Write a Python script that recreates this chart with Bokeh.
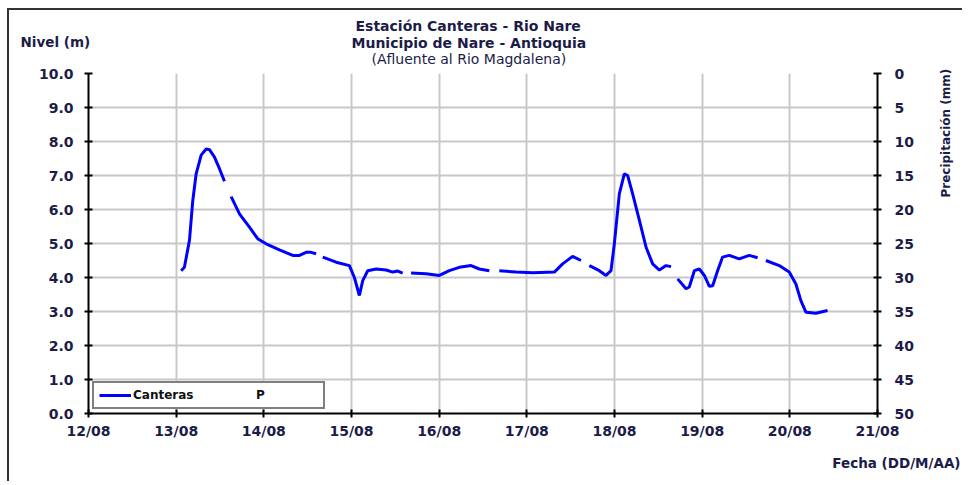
import math
import numpy as np
import pandas as pd
from bokeh.plotting import figure
from bokeh.models import (Range1d, LinearAxis, DaysTicker, DatetimeTickFormatter,
                          NumeralTickFormatter, SingleIntervalTicker, Title, Legend,
                          LegendItem, ColumnDataSource)
from bokeh.embed import file_html
from bokeh.resources import INLINE

nan = float("nan")

# Day of August (decimal) and level (m); NaN marks gaps in the record
dia = [13.057, 13.094, 13.152, 13.189, 13.228, 13.285, 13.342, 13.380, 13.437, 13.494, 13.551, nan,
       13.627, 13.722, 13.836, 13.930, 14.026, 14.178, 14.330, 14.406, 14.482, 14.539, 14.596, nan,
       14.672, 14.825, 14.976, 15.033, 15.090, 15.128, 15.185, 15.281, 15.395, 15.470, 15.527, 15.584, nan,
       15.680, 15.850, 16.002, 16.116, 16.230, 16.364, 16.458, 16.572, nan,
       16.686, 16.877, 17.066, 17.314, 17.408, 17.522, 17.618, nan,
       17.713, 17.827, 17.903, 17.960, 17.998, 18.055, 18.112, 18.150, 18.207, 18.284, 18.360, 18.435,
       18.512, 18.588, 18.645, nan,
       18.720, 18.816, 18.853, 18.911, 18.968, 19.025, 19.082, 19.120, 19.176, 19.233, 19.309, 19.423,
       19.537, 19.632, nan,
       19.727, 19.879, 19.993, 20.069, 20.126, 20.183, 20.297, 20.430]
nivel = [4.20, 4.30, 5.10, 6.25, 7.05, 7.60, 7.78, 7.76, 7.54, 7.20, 6.83, nan,
         6.38, 5.87, 5.48, 5.14, 4.99, 4.81, 4.65, 4.65, 4.74, 4.74, 4.70, nan,
         4.60, 4.45, 4.35, 4.00, 3.47, 3.91, 4.20, 4.25, 4.22, 4.16, 4.19, 4.13, nan,
         4.13, 4.11, 4.06, 4.20, 4.30, 4.35, 4.25, 4.20, nan,
         4.20, 4.16, 4.14, 4.16, 4.40, 4.62, 4.50, nan,
         4.35, 4.20, 4.06, 4.20, 4.99, 6.46, 7.05, 7.00, 6.46, 5.68, 4.89, 4.40,
         4.22, 4.35, 4.32, nan,
         3.96, 3.67, 3.72, 4.20, 4.25, 4.06, 3.74, 3.76, 4.20, 4.60, 4.65, 4.55,
         4.65, 4.58, nan,
         4.50, 4.35, 4.16, 3.81, 3.32, 2.98, 2.95, 3.03]

# Precipitation (mm): no values recorded in the period shown
dia_p = []
precip = []

base = pd.Timestamp("2010-08-01")
DAY_MS = 86400000.0
BASE_MS = base.value / 1e6


def to_ms(days):
    return np.array([BASE_MS + (d - 1) * DAY_MS for d in days], dtype=float)


src = ColumnDataSource(dict(t=to_ms(dia), v=np.array(nivel, dtype=float)))
src_p = ColumnDataSource(dict(t=to_ms(dia_p), v=np.array(precip, dtype=float)))

TXT = "#1c1c48"
FONT = "DejaVu Sans"

p = figure(x_axis_type="datetime", output_backend="svg", toolbar_location=None,
           frame_width=789, frame_height=340,
           min_border_left=79, min_border_right=84, min_border_top=63, min_border_bottom=10,
           x_range=Range1d(BASE_MS + 11 * DAY_MS, BASE_MS + 20 * DAY_MS),
           y_range=Range1d(0, 10))
p.styles = {"margin-left": "7px", "margin-top": "8px",
            "border-left": "2px solid #333333", "border-top": "2px solid #333333"}
p.outline_line_color = None
p.background_fill_color = "white"
p.border_fill_color = "white"
p.title.text = ""

p.extra_y_ranges = {"precip": Range1d(50, 0)}

line_r = p.line("t", "v", source=src, line_color="#0000ff", line_width=3)
pts_r = p.scatter("t", "v", source=src_p, y_range_name="precip", color="#008000", size=4)

# x axis
xa = p.xaxis[0]
xa.ticker = DaysTicker(days=list(range(1, 32)))
xa.formatter = DatetimeTickFormatter(days="%d/%m", months="%d/%m", hours="%d/%m")
# y axis
ya = p.yaxis[0]
ya.ticker = SingleIntervalTicker(interval=1)
ya.formatter = NumeralTickFormatter(format="0.0")

NBSP = "\u00a0"
ra = LinearAxis(y_range_name="precip", ticker=SingleIntervalTicker(interval=5),
                axis_label=NBSP * 11 + "Precipitación (mm)")
p.add_layout(ra, "right")
ra.axis_label_text_font = FONT
ra.axis_label_text_font_style = "bold"
ra.axis_label_text_font_size = "12px"
ra.axis_label_text_color = TXT
ra.axis_label_standoff = 29
ra.axis_label_orientation = math.pi / 2

for ax in (xa, ya, ra):
    ax.axis_line_color = "black"
    ax.axis_line_width = 2
    ax.major_tick_line_color = "black"
    ax.major_tick_line_width = 2
    ax.major_tick_in = 4
    ax.major_tick_out = 4
    ax.minor_tick_line_color = None
    ax.major_label_text_font = FONT
    ax.major_label_text_font_style = "bold"
    ax.major_label_text_font_size = "14px"
    ax.major_label_text_color = TXT
xa.major_label_standoff = 5
ya.major_label_standoff = 11
ra.major_label_standoff = 13

p.xgrid.grid_line_color = "#c8c8c8"
p.xgrid.grid_line_width = 2
p.ygrid.grid_line_color = "#c8c8c8"
p.ygrid.grid_line_width = 2
p.xgrid.ticker = xa.ticker
p.ygrid.ticker = ya.ticker


def title(text, size="14px", style="bold", align="left", offset=0, valign="top", standoff=0):
    return Title(text=text, text_font=FONT, text_font_size=size, text_font_style=style,
                 text_color=TXT, align=align, offset=offset, vertical_align=valign,
                 standoff=standoff)


t1 = title("Estación Canteras - Rio Nare", offset=267, standoff=9)
t2 = title("Municipio de Nare - Antioquia", offset=263, standoff=-14)
t_niv = title("Nivel (m)", size="13.5px", offset=-68, valign="bottom", standoff=-17)
t3 = title("(Afluente al Rio Magdalena)", style="normal", offset=283, standoff=10)
p.above = [t3, t2, t_niv, t1]

t_fecha = title("Fecha (DD/M/AA)", size="13.5px", align="right", offset=-83,
                valign="bottom", standoff=22)
p.below = [xa, t_fecha]

legend = Legend(items=[LegendItem(label="Canteras", renderers=[line_r]),
                       LegendItem(label="P", renderers=[pts_r])],
                orientation="horizontal", location=(4, 4),
                border_line_color="black", border_line_width=2,
                background_fill_color="white", background_fill_alpha=1.0,
                label_text_font=FONT, label_text_font_style="bold", label_text_font_size="12px",
                label_text_color="#111111", glyph_width=32, glyph_height=10, label_height=10,
                label_width=62, label_standoff=2, spacing=27, padding=5, margin=0)
p.add_layout(legend, "center")

open("out.html", "w").write(file_html(p, INLINE))
